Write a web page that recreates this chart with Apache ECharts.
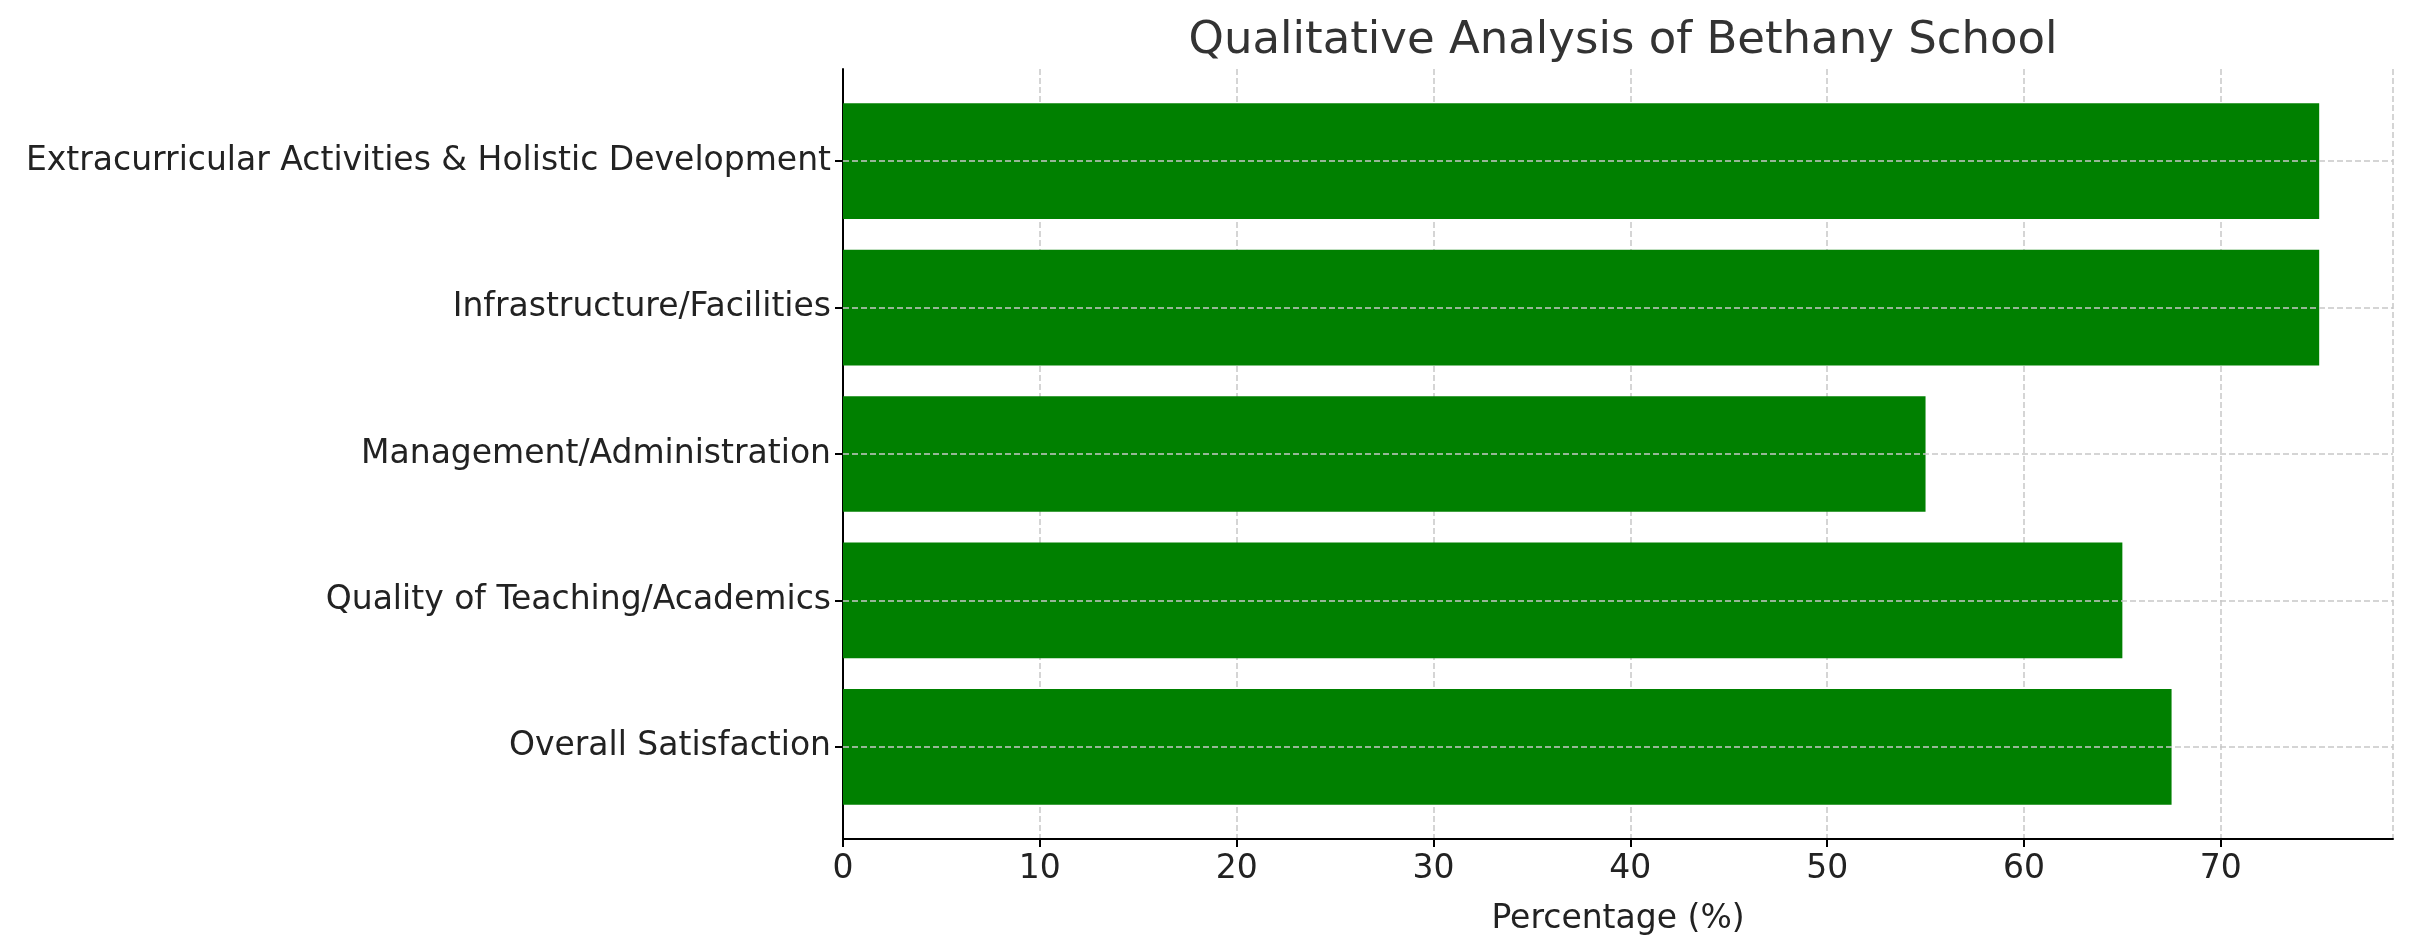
<!DOCTYPE html>
<html>
<head>
<meta charset="utf-8">
<script src="https://cdn.jsdelivr.net/npm/echarts@6/dist/echarts.min.js"></script>
<style>html,body{margin:0;padding:0;background:#fff}#chart{width:2413px;height:947px}</style>
</head>
<body>
<div id="chart"></div>
<script>
var categories = ['Overall Satisfaction', 'Quality of Teaching/Academics', 'Management/Administration', 'Infrastructure/Facilities', 'Extracurricular Activities & Holistic Development']
var values = [67.5, 65, 55, 75, 75]
var xTicks = [0, 10, 20, 30, 40, 50, 60, 70]

var chart = echarts.init(document.getElementById('chart'))
var font = 'DejaVu Sans'
var grid = { color: '#c8c8c8', type: 'dashed', width: 1.5 }
chart.setOption({
  animation: false,
  title: {
    text: 'Qualitative Analysis of Bethany School',
    left: 1618, textAlign: 'center',
    top: 14,
    textStyle: { fontFamily: font, fontSize: 45, fontWeight: 'normal', color: '#333' }
  },
  grid: [
    { left: 843, right: 20, top: 88, bottom: 127 },
    { left: 843, right: 20, top: 69, bottom: 108 }
  ],
  xAxis: [
    { type: 'value', gridIndex: 0, min: 0, max: 78.75, show: false },
    {
      type: 'value', gridIndex: 1, min: 0, max: 78.75, interval: 10,
      name: 'Percentage (%)', nameLocation: 'middle', nameGap: 64,
      nameTextStyle: { fontFamily: font, fontSize: 33, color: '#222' },
      axisLine: { show: true, lineStyle: { color: '#000', width: 2 } },
      axisTick: { show: true, length: 8, lineStyle: { color: '#000', width: 2 } },
      axisLabel: {
        fontFamily: font, fontSize: 33, color: '#222', margin: 14, showMaxLabel: false,
        formatter: function (v) { return xTicks.indexOf(v) >= 0 ? v : '' }
      },
      splitLine: { show: true, lineStyle: grid }
    }
  ],
  yAxis: [
    {
      type: 'category', gridIndex: 0, data: categories,
      axisLine: { show: false },
      axisTick: { show: true, alignWithLabel: true, length: 8, lineStyle: { color: '#000', width: 2 } },
      axisLabel: { fontFamily: font, fontSize: 33, color: '#222', margin: 12 },
      splitLine: { show: false }
    },
    {
      type: 'value', gridIndex: 1, min: 0, max: 1,
      axisLine: { show: true, onZero: false, lineStyle: { color: '#000', width: 2 } },
      axisTick: { show: false }, axisLabel: { show: false }, splitLine: { show: false }
    }
  ],
  series: [{
    type: 'bar',
    xAxisIndex: 0, yAxisIndex: 0,
    data: values,
    barCategoryGap: '21%',
    itemStyle: { color: '#008000' },
    z: 3,
    markLine: {
      silent: true, symbol: 'none', label: { show: false },
      lineStyle: grid,
      data: categories.map(function (c) { return { yAxis: c } })
    }
  }]
})
</script>
</body>
</html>
